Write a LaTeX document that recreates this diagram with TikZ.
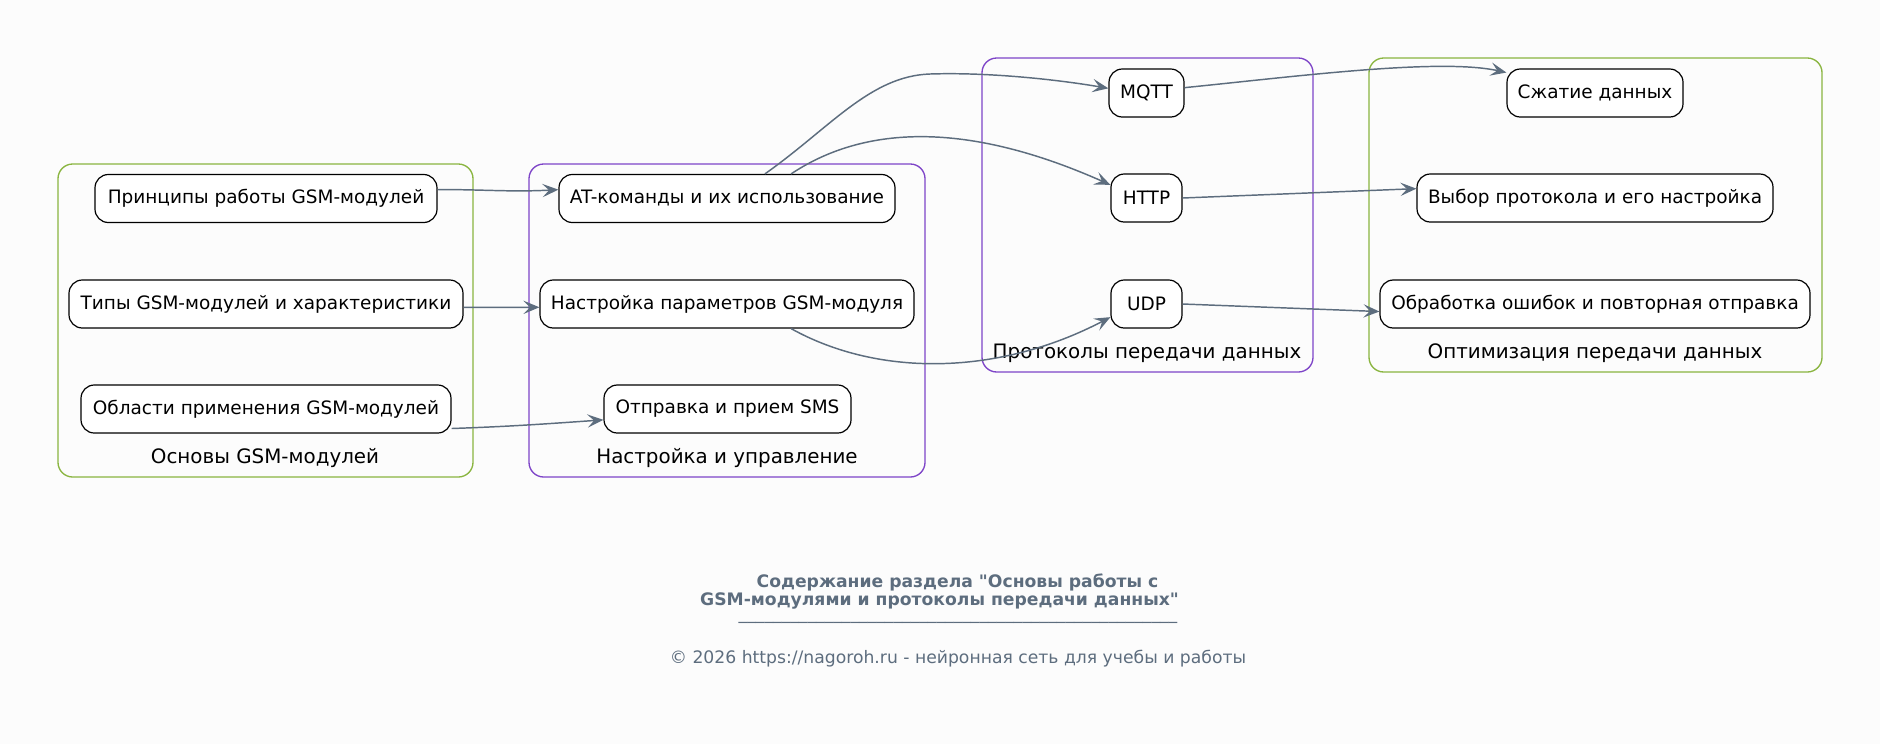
\documentclass[tikz,border=0pt]{standalone}
\usepackage{fontspec}
\setmainfont{DejaVu Sans}
\newfontfamily\djv{DejaVu Sans}
\usetikzlibrary{arrows.meta}
\definecolor{bg}{RGB}{252,252,252}
\definecolor{slate}{RGB}{93,109,126}
\definecolor{cgreen}{RGB}{138,181,64}
\definecolor{cpurple}{RGB}{126,68,200}
\tikzset{
  item/.style={draw=black, line width=0.9pt, rounded corners=10pt, fill=white,
    minimum height=36pt, inner xsep=3pt, font=\fontsize{13.85}{16}\selectfont},
  clab/.style={font=\fontsize{14.9}{17}\selectfont, inner sep=0pt},
  cgbox/.style={draw=cgreen, line width=1pt, rounded corners=11pt},
  cpbox/.style={draw=cpurple, line width=1pt, rounded corners=11pt},
  conn/.style={draw=slate, line width=1.1pt, -{Stealth[length=12pt,width=10pt,inset=5pt]}},
  foot/.style={font=\djv\fontsize{12.9}{13.5}\selectfont, text=slate, inner sep=0pt},
  foottitle/.style={font=\djv\bfseries\fontsize{12.9}{13.5}\selectfont, text=slate, inner sep=0pt, align=center}
}
\begin{document}
\begin{tikzpicture}[x=0.75pt,y=-0.75pt]
\useasboundingbox[fill=bg] (0,0) rectangle (1880,744);
% clusters
\draw[cgbox] (58,164) rectangle (473,477);
\draw[cpbox] (529,164) rectangle (925,477);
\draw[cpbox] (982,58) rectangle (1313,372);
\draw[cgbox] (1369,58) rectangle (1822,372);
\node[clab] (l1) at (265,458) {Основы GSM-модулей};
\node[clab] (l2) at (727,458) {Настройка и управление};
\node[clab] (l3) at (1147,353) {Протоколы передачи данных};
\node[clab] (l4) at (1595,353) {Оптимизация передачи данных};
% nodes
\node[item, minimum width=256.5pt] (p1) at (266,198.5) {Принципы работы GSM-модулей};
\node[item, minimum width=295.5pt] (p2) at (266,304) {Типы GSM-модулей и характеристики};
\node[item, minimum width=277.5pt] (p3) at (266,409) {Области применения GSM-модулей};
\node[item, minimum width=252pt] (at) at (727,198.5) {AT-команды и их использование};
\node[item, minimum width=280.5pt] (np) at (727,304) {Настройка параметров GSM-модуля};
\node[item, minimum width=185.25pt] (sms) at (727.5,409) {Отправка и прием SMS};
\node[item, minimum width=56.25pt] (mqtt) at (1146.5,93) {MQTT};
\node[item, minimum width=53.25pt] (http) at (1146.5,198) {HTTP};
\node[item, minimum width=53.25pt] (udp) at (1146.5,304) {UDP};
\node[item, minimum width=132pt] (sz) at (1595,93) {Сжатие данных};
\node[item, minimum width=267pt] (vb) at (1595,198) {Выбор протокола и его настройка};
\node[item, minimum width=322.5pt] (ob) at (1595,304) {Обработка ошибок и повторная отправка};
% connectors
\draw[conn] (p1.3.5) to[out=0,in=183] (at.177.4);
\draw[conn] (p2.-1.5) -- (np.181.2);
\draw[conn] (p3.-6.5) to[out=2,in=184] (sms.185.5);
\draw[conn] (at.33) .. controls (830,128) and (870,76) .. (930,74) .. controls (990,72) and (1060,80) .. (mqtt.173);
\draw[conn] (at.21.5) .. controls (860,128) and (960,118) .. (http.160);
\draw[conn] (np.-21.5) .. controls (880,378) and (1000,375) .. (udp.200);
\draw[conn] (mqtt.8) .. controls (1300,76) and (1440,58) .. (sz.167);
\draw[conn] (http.east) -- (vb.177);
\draw[conn] (udp.east) -- (ob.182);
% title
\node[foottitle] (title) at (939.5,592)
  {\hspace*{27pt}Содержание раздела "Основы работы с\\GSM-модулями и протоколы передачи данных"};
\node[foot] (rule) at (958,622) {\_\_\_\_\_\_\_\_\_\_\_\_\_\_\_\_\_\_\_\_\_\_\_\_\_\_\_\_\_\_\_\_\_\_\_\_\_\_\_\_\_\_\_\_\_\_\_\_\_\_\_};
\node[foot] (copy) at (958,659) {© 2026 https://nagoroh.ru - нейронная сеть для учебы и работы};
\end{tikzpicture}
\end{document}
